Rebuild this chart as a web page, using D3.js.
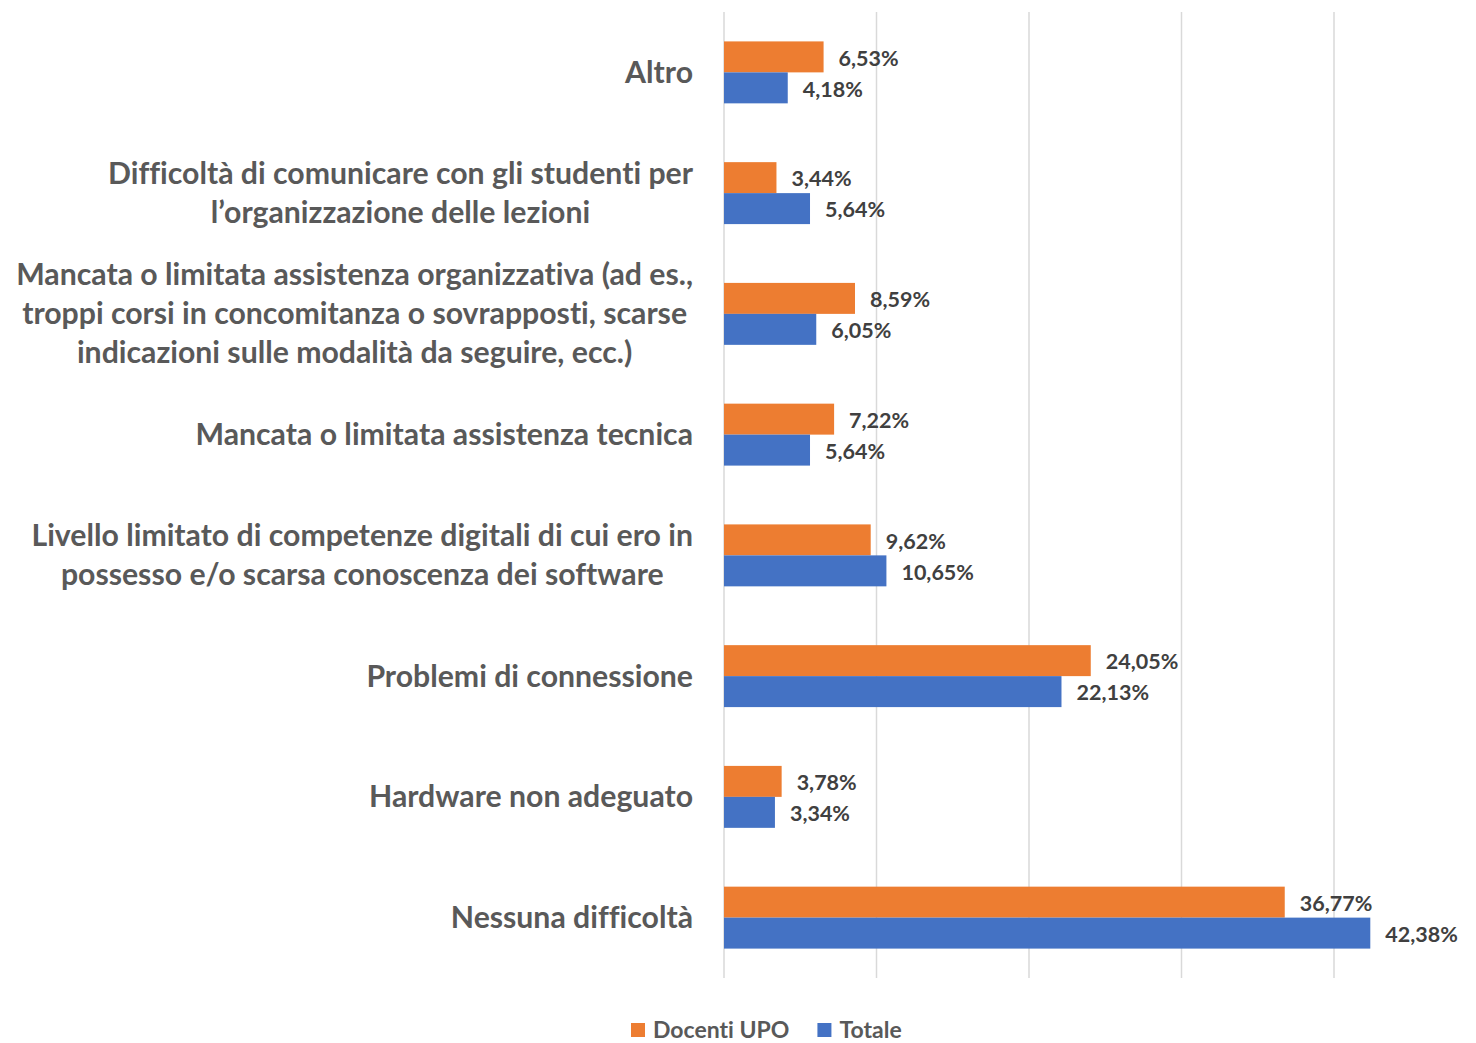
<!DOCTYPE html>
<html><head><meta charset="utf-8">
<script src="https://cdn.jsdelivr.net/npm/d3@7"></script>
<style>body{margin:0;background:#fff}svg{display:block}text{font-variant-ligatures:none}</style>
</head><body>
<svg id="c" width="1476" height="1043"></svg>
<script>
const categories = [
  ["Altro"],
  ["Difficoltà di comunicare con gli studenti per", "l’organizzazione delle lezioni"],
  ["Mancata o limitata assistenza organizzativa (ad es.,", "troppi corsi in concomitanza o sovrapposti, scarse", "indicazioni sulle modalità da seguire, ecc.)"],
  ["Mancata o limitata assistenza tecnica"],
  ["Livello limitato di competenze digitali di cui ero in", "possesso e/o scarsa conoscenza dei software"],
  ["Problemi di connessione"],
  ["Hardware non adeguato"],
  ["Nessuna difficoltà"]
];
const seriesNames = ["Docenti UPO", "Totale"];
const docentiUPO = [6.53, 3.44, 8.59, 7.22, 9.62, 24.05, 3.78, 36.77];
const totale = [4.18, 5.64, 6.05, 5.64, 10.65, 22.13, 3.34, 42.38];
const gridTicks = [0, 10, 20, 30, 40];
const colors = ["#ED7D31", "#4472C4"];

(function () {
const svg = d3.select("#c");
const font = "Lato, 'Open Sans', sans-serif";
const pLeft = 724, pRight = 1410.25, pTop = 12, pBottom = 978;

const keys = categories.map(d => d.join(" "));
const x = d3.scaleLinear().domain([0, 45]).range([pLeft, pRight]);
const y = d3.scaleBand().domain(keys).range([pTop, pBottom]).paddingInner(0.487).paddingOuter(0.2435);
const y1 = d3.scaleBand().domain(seriesNames).range([0, y.bandwidth()]);

svg.append("g").selectAll("line").data(gridTicks).join("line")
  .attr("x1", d => x(d)).attr("x2", d => x(d))
  .attr("y1", pTop).attr("y2", pBottom)
  .attr("stroke", "#d9d9d9").attr("stroke-width", 1.5);

const series = [docentiUPO, totale];
series.forEach((vals, si) => {
  const g = svg.append("g");
  g.selectAll("rect").data(vals).join("rect")
    .attr("x", x(0))
    .attr("y", (d, i) => y(keys[i]) + y1(seriesNames[si]))
    .attr("width", d => x(d) - x(0))
    .attr("height", y1.bandwidth())
    .attr("fill", colors[si]);
  g.selectAll("text").data(vals).join("text")
    .attr("x", d => x(d) + 15)
    .attr("y", (d, i) => y(keys[i]) + y1(seriesNames[si]) + y1.bandwidth() / 2 + 1)
    .attr("dy", "0.36em")
    .attr("font-family", font).attr("font-weight", 700).attr("font-size", 21.5)
    .attr("fill", "#404040")
    .text(d => d.toFixed(2).replace(".", ",") + "%");
});

const labelRight = 693, lineH = 39;
let fs = 27;
const probe = svg.append("text").attr("font-family", font).attr("font-weight", 700).attr("font-size", fs)
  .text(categories[2][0]);
const w0 = probe.node().getComputedTextLength();
probe.remove();
fs = fs * 677 / w0;

categories.forEach((lines, i) => {
  const cy = y(keys[i]) + y.bandwidth() / 2;
  const g = svg.append("g");
  const texts = lines.map((ln, j) => g.append("text")
    .attr("font-family", font).attr("font-weight", 700).attr("font-size", fs)
    .attr("fill", "#595959").attr("text-anchor", "middle")
    .attr("y", cy + (j - (lines.length - 1) / 2) * lineH)
    .attr("dy", "0.35em").text(ln));
  const maxW = d3.max(texts, t => t.node().getComputedTextLength());
  texts.forEach(t => t.attr("x", labelRight - maxW / 2));
});

const leg = svg.append("g");
let lx = 631;
seriesNames.forEach((n, i) => {
  leg.append("rect").attr("x", lx).attr("y", 1023).attr("width", 14).attr("height", 14).attr("fill", colors[i]);
  const t = leg.append("text").attr("x", lx + 22).attr("y", 1030).attr("dy", "0.36em")
    .attr("font-family", font).attr("font-weight", 700).attr("font-size", 23).attr("fill", "#595959").text(n);
  lx = lx + 22 + t.node().getComputedTextLength() + 28;
});
})();
</script>
</body></html>
